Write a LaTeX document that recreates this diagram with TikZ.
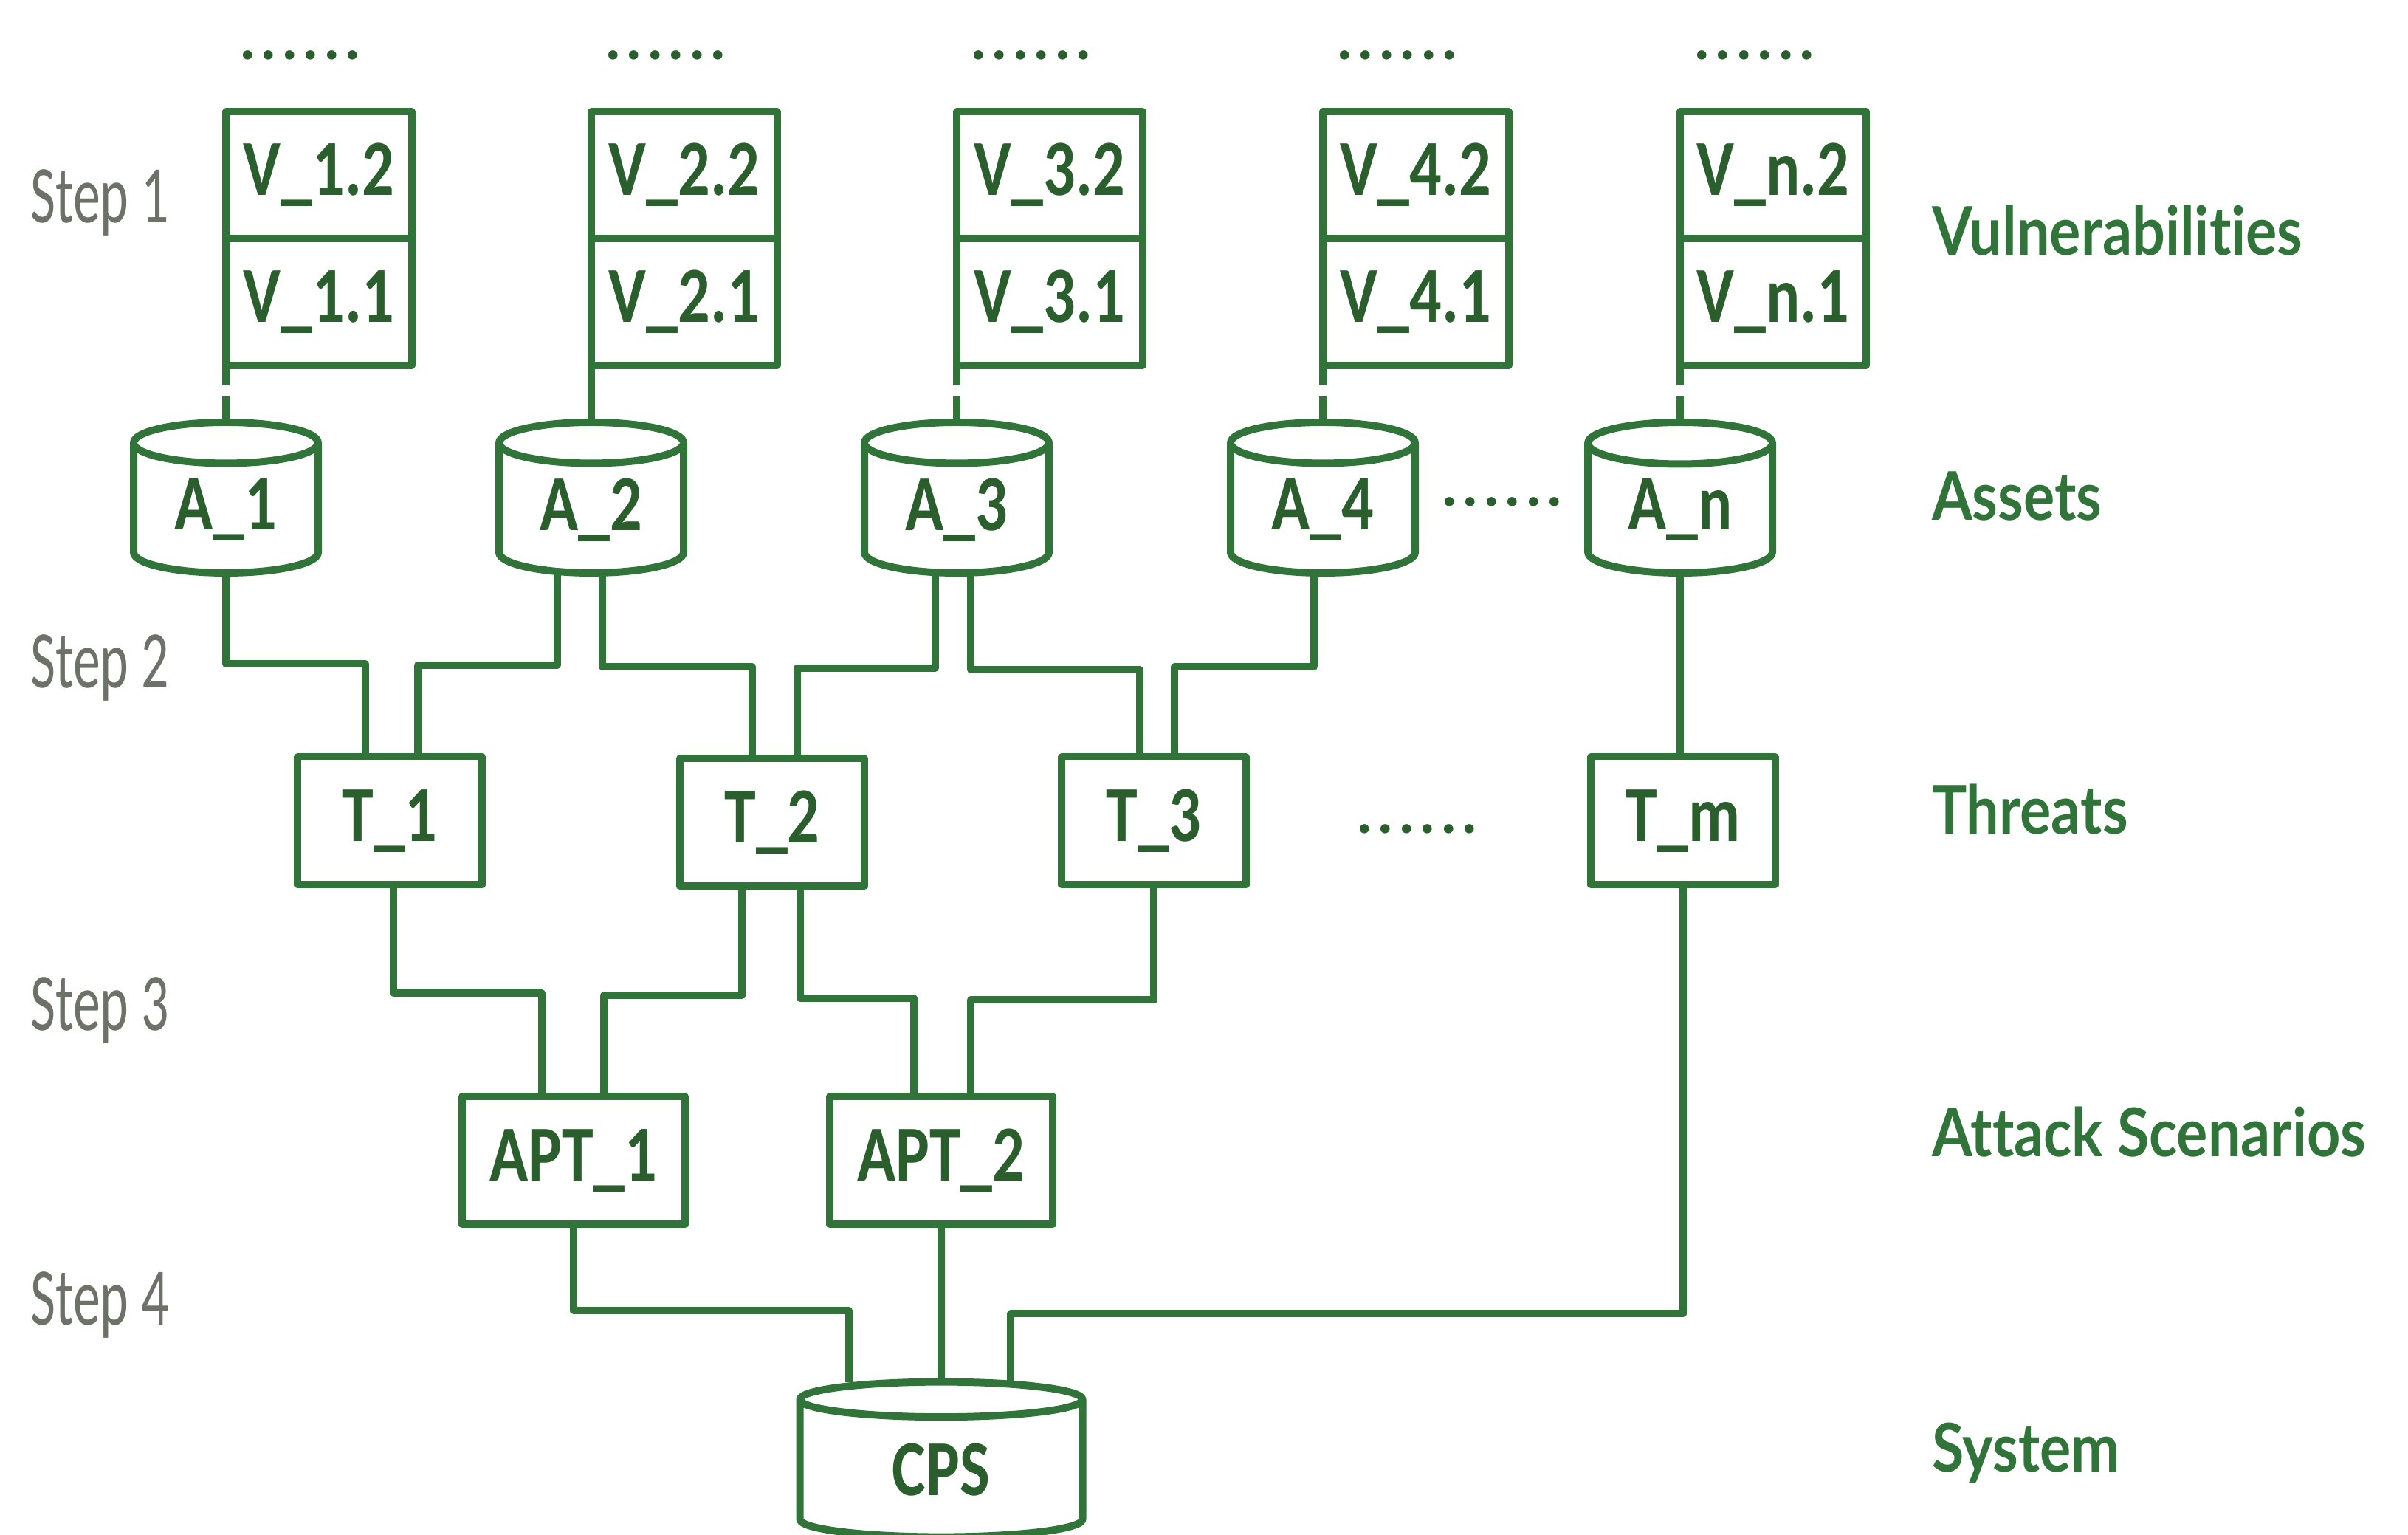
\documentclass[tikz,border=0pt]{standalone}
\usepackage{fontspec}
\usepackage{graphicx}
\usepackage{tikz}
\usetikzlibrary{shapes.geometric, positioning}
\setmainfont{Carlito}
\newfontfamily\levelfont[Ligatures=NoCommon]{Lato}
\definecolor{linegreen}{RGB}{48, 116, 58}
\definecolor{textgreen}{RGB}{42, 94, 45}
\definecolor{stepgray}{RGB}{108, 114, 104}
\newcommand{\tallText}[2][1.25]{\scalebox{1}[#1]{#2}}
\newcommand{\dotRow}{.\kern1.7pt.\kern1.7pt.\kern1.7pt.\kern1.7pt.\kern1.7pt.}

\begin{document}
\begin{tikzpicture}[x=1cm, y=1cm, line join=round,
  every node/.style={inner sep=0pt, outer sep=0pt},
  box/.style={rectangle, draw=linegreen, line width=1mm, fill=white, minimum width=2.52cm, minimum height=1.72cm, text=textgreen, font=\bfseries\fontsize{24.5}{29}\selectfont},
  cyl/.style={cylinder, shape border rotate=90, aspect=0.4, draw=linegreen, line width=1mm, fill=white, minimum width=2.5cm, minimum height=2.04cm, text=textgreen, font=\bfseries\fontsize{24.5}{29}\selectfont},
  link/.style={draw=linegreen, line width=1mm},
  gaplink/.style={link, dash pattern=on 0.26cm off 0.16cm on 1cm},
  dots/.style={text=textgreen, font=\bfseries\fontsize{24}{28}\selectfont},
  steplabel/.style={text=stepgray, font=\fontsize{21}{25}\selectfont},
  levellabel/.style={anchor=west, text=linegreen, font=\levelfont\bfseries\fontsize{22.5}{27}\selectfont}]

\useasboundingbox (0,0) rectangle (32.62,20.79);

% Vulnerabilities and assets
\foreach \i/\x/\lk in {1/4.32/gaplink, 2/9.27/link, 3/14.22/gaplink, 4/19.18/gaplink, n/24.02/gaplink} {
  \node[dots] (dotsV\i) at (\x-0.25,20.04) {\dotRow};
  \node[box] (V\i2) at (\x,18.42) {\tallText{V\_\i.2}};
  \node[box, below=0pt of V\i2] (V\i1) {\tallText{V\_\i.1}};
  \node[cyl, below=0.77cm of V\i1.south west] (A\i) {\tallText{A\_\i}};
  \draw[\lk] (V\i1.south west) -- (A\i.north);
}
\node[dots] (dotsA) at (20.35,13.99) {\dotRow};

% Threats
\node[box, minimum width=2.5cm, minimum height=1.73cm] (T1) at (5.28,9.67) {\tallText{T\_1}};
\node[box, minimum width=2.5cm, minimum height=1.73cm] (T2) at (10.46,9.65) {\tallText{T\_2}};
\node[box, minimum width=2.5cm, minimum height=1.73cm] (T3) at (15.63,9.67) {\tallText{T\_3}};
\node[box, minimum width=2.5cm, minimum height=1.73cm] (Tm) at (22.80,9.67) {\tallText{T\_m}};
\node[dots] (dotsT) at (19.20,9.56) {\dotRow};

% Attack scenarios
\node[box, minimum width=3.02cm, minimum height=1.73cm] (APT1) at (7.77,5.07) {\tallText{APT\_1}};
\node[box, minimum width=3.02cm, minimum height=1.73cm] (APT2) at (12.75,5.07) {\tallText{APT\_2}};

% System
\node[cyl, aspect=0.36, minimum width=3.83cm, minimum height=2.1cm] (CPS) at (12.75,0.88) {\tallText{CPS}};

% Assets -> threats
\draw[link] (A1.south) -- ++(0,-1.23) -| ([xshift=-0.33cm]T1.north);
\draw[link] ([xshift=-0.46cm]A2.south) -- ++(0,-1.25) -| ([xshift=0.38cm]T1.north);
\draw[link] ([xshift=0.15cm]A2.south) -- ++(0,-1.27) -| ([xshift=-0.27cm]T2.north);
\draw[link] ([xshift=-0.29cm]A3.south) -- ++(0,-1.29) -| ([xshift=0.34cm]T2.north);
\draw[link] ([xshift=0.19cm]A3.south) -- ++(0,-1.31) -| ([xshift=-0.19cm]T3.north);
\draw[link] ([xshift=-0.12cm]A4.south) -- ++(0,-1.27) -| ([xshift=0.28cm]T3.north);
\draw[link] (An.south) -- (An.south |- Tm.north);

% Threats -> attack scenarios
\draw[link] ([xshift=0.05cm]T1.south) -- ++(0,-1.47) -| ([xshift=-0.43cm]APT1.north);
\draw[link] ([xshift=-0.41cm]T2.south) -- ++(0,-1.48) -| ([xshift=0.41cm]APT1.north);
\draw[link] ([xshift=0.38cm]T2.south) -- ++(0,-1.52) -| ([xshift=-0.37cm]APT2.north);
\draw[link] (T3.south) -- ++(0,-1.56) -| ([xshift=0.40cm]APT2.north);

% Attack scenarios -> system
\draw[link] (APT1.south) -- ++(0,-1.17) -| ([xshift=-1.25cm]CPS.north);
\draw[link] (APT2.south) -- (CPS.north);
\draw[link] (Tm.south) -- ++(0,-5.81) -| ([xshift=0.94cm]CPS.north);

% Steps
\node[steplabel] (step1) at (1.35,18.04) {\tallText[1.5]{Step 1}};
\node[steplabel] (step2) at (1.35,11.74) {\tallText[1.5]{Step 2}};
\node[steplabel] (step3) at (1.35,7.10) {\tallText[1.5]{Step 3}};
\node[steplabel] (step4) at (1.35,3.11) {\tallText[1.5]{Step 4}};

% Levels
\node[levellabel] (lvV) at (26.17,17.67) {\tallText[1.15]{Vulnerabilities}};
\node[levellabel] (lvA) at (26.17,14.07) {\tallText[1.15]{Assets}};
\node[levellabel] (lvT) at (26.17,9.83) {\tallText[1.15]{Threats}};
\node[levellabel] (lvS) at (26.17,5.46) {\tallText[1.15]{Attack Scenarios}};
\node[levellabel] (lvC) at (26.17,1.11) {\tallText[1.15]{System}};
\end{tikzpicture}
\end{document}
